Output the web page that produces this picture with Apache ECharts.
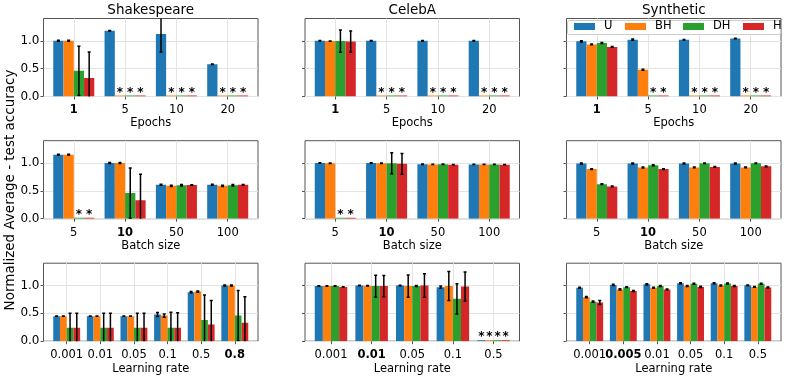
<!DOCTYPE html>
<html>
<head>
<meta charset="utf-8">
<script src="https://cdn.jsdelivr.net/npm/echarts@6/dist/echarts.min.js"></script>
<style>html,body{margin:0;padding:0;background:#fff}#c{width:789px;height:378px}</style>
</head>
<body>
<div id="c"></div>
<script>
// ---------- data ----------
const methods = ['U', 'BH', 'DH', 'H'];
const datasets = ['Shakespeare', 'CelebA', 'Synthetic'];
const rowNames = ['Epochs', 'Batch size', 'Learning rate'];
const yTicks = [0, 0.5, 1.0];

// Row 1: Epochs
const epochCats = ['1', '5', '10', '20'];
const epochBold = 0;
const shkEpochU = [1.0, 1.18, 1.12, 0.58];   const shkEpochUErr = [0.01, 0.005, 0.32, 0.005];
const shkEpochBH = [1.0, null, null, null];  const shkEpochBHErr = [0.01, 0, 0, 0];
const shkEpochDH = [0.46, null, null, null]; const shkEpochDHErr = [0.44, 0, 0, 0];
const shkEpochH = [0.33, null, null, null];  const shkEpochHErr = [0.47, 0, 0, 0];
const celEpochU = [1.0, 1.0, 1.0, 1.0];      const celEpochUErr = [0.005, 0.003, 0.003, 0.003];
const celEpochBH = [0.995, null, null, null]; const celEpochBHErr = [0.003, 0, 0, 0];
const celEpochDH = [0.995, null, null, null]; const celEpochDHErr = [0.2, 0, 0, 0];
const celEpochH = [0.985, null, null, null]; const celEpochHErr = [0.19, 0, 0, 0];
const synEpochU = [0.99, 1.02, 1.02, 1.04];  const synEpochUErr = [0.01, 0.01, 0.005, 0.005];
const synEpochBH = [0.935, 0.48, null, null]; const synEpochBHErr = [0.008, 0.01, 0, 0];
const synEpochDH = [0.96, null, null, null]; const synEpochDHErr = [0.008, 0, 0, 0];
const synEpochH = [0.89, null, null, null];  const synEpochHErr = [0.008, 0, 0, 0];

// Row 2: Batch size
const batchCats = ['5', '10', '50', '100'];
const batchBold = 1;
const shkBatchU = [1.15, 1.0, 0.61, 0.61];   const shkBatchUErr = [0.008, 0.008, 0.01, 0.01];
const shkBatchBH = [1.15, 1.0, 0.59, 0.59];  const shkBatchBHErr = [0.008, 0.008, 0.012, 0.012];
const shkBatchDH = [null, 0.46, 0.60, 0.60]; const shkBatchDHErr = [0, 0.45, 0.012, 0.012];
const shkBatchH = [null, 0.33, 0.605, 0.61]; const shkBatchHErr = [0, 0.47, 0.005, 0.005];
const celBatchU = [1.0, 1.0, 0.978, 0.975];  const celBatchUErr = [0.004, 0.005, 0.004, 0.004];
const celBatchBH = [0.995, 0.995, 0.975, 0.975]; const celBatchBHErr = [0.003, 0.004, 0.003, 0.003];
const celBatchDH = [null, 0.995, 0.978, 0.975]; const celBatchDHErr = [0, 0.19, 0.004, 0.004];
const celBatchH = [null, 0.985, 0.97, 0.97]; const celBatchHErr = [0, 0.185, 0.003, 0.003];
const synBatchU = [0.99, 0.99, 0.99, 0.99];  const synBatchUErr = [0.008, 0.008, 0.008, 0.008];
const synBatchBH = [0.89, 0.92, 0.92, 0.92]; const synBatchBHErr = [0.006, 0.008, 0.006, 0.006];
const synBatchDH = [0.62, 0.96, 0.995, 0.995]; const synBatchDHErr = [0.006, 0.008, 0.005, 0.005];
const synBatchH = [0.58, 0.89, 0.93, 0.94];  const synBatchHErr = [0.008, 0.008, 0.008, 0.008];

// Row 3: Learning rate
const shkLrCats = ['0.001', '0.01', '0.05', '0.1', '0.5', '0.8'];
const shkLrBold = 5;
const shkLrU = [0.45, 0.45, 0.45, 0.48, 0.88, 1.0];  const shkLrUErr = [0.003, 0.003, 0.003, 0.035, 0.01, 0.01];
const shkLrBH = [0.45, 0.45, 0.45, 0.46, 0.89, 1.0]; const shkLrBHErr = [0.003, 0.003, 0.003, 0.03, 0.012, 0.01];
const shkLrDH = [0.24, 0.24, 0.24, 0.24, 0.38, 0.46]; const shkLrDHErr = [0.26, 0.26, 0.26, 0.28, 0.45, 0.45];
const shkLrH = [0.24, 0.24, 0.24, 0.24, 0.30, 0.33]; const shkLrHErr = [0.26, 0.26, 0.26, 0.27, 0.43, 0.47];
const celLrCats = ['0.001', '0.01', '0.05', '0.1', '0.5'];
const celLrBold = 1;
const celLrU = [0.99, 1.0, 1.0, 0.97, null];   const celLrUErr = [0.005, 0.005, 0.005, 0.02, 0];
const celLrBH = [0.99, 0.995, 0.99, 0.99, null]; const celLrBHErr = [0.004, 0.004, 0.2, 0.26, 0];
const celLrDH = [0.99, 0.99, 0.99, 0.76, null]; const celLrDHErr = [0.004, 0.195, 0.01, 0.27, 0];
const celLrH = [0.975, 0.99, 1.0, 0.98, null]; const celLrHErr = [0.004, 0.19, 0.21, 0.26, 0];
const synLrCats = ['0.001', '0.005', '0.01', '0.05', '0.1', '0.5'];
const synLrBold = 1;
const synLrU = [0.96, 1.01, 1.02, 1.04, 1.04, 1.005];  const synLrUErr = [0.01, 0.01, 0.01, 0.008, 0.008, 0.005];
const synLrBH = [0.79, 0.93, 0.96, 0.99, 1.0, 0.975];  const synLrBHErr = [0.012, 0.01, 0.008, 0.008, 0.008, 0.008];
const synLrDH = [0.71, 0.97, 0.99, 1.03, 1.035, 1.03]; const synLrDHErr = [0.01, 0.008, 0.008, 0.008, 0.008, 0.008];
const synLrH = [0.695, 0.90, 0.93, 0.975, 0.99, 0.965]; const synLrHErr = [0.035, 0.01, 0.008, 0.01, 0.008, 0.01];

// ---------- panels (built from the arrays above) ----------
const panels = [
  [epochCats, epochBold, [shkEpochU, shkEpochBH, shkEpochDH, shkEpochH], [shkEpochUErr, shkEpochBHErr, shkEpochDHErr, shkEpochHErr]],
  [epochCats, epochBold, [celEpochU, celEpochBH, celEpochDH, celEpochH], [celEpochUErr, celEpochBHErr, celEpochDHErr, celEpochHErr]],
  [epochCats, epochBold, [synEpochU, synEpochBH, synEpochDH, synEpochH], [synEpochUErr, synEpochBHErr, synEpochDHErr, synEpochHErr]],
  [batchCats, batchBold, [shkBatchU, shkBatchBH, shkBatchDH, shkBatchH], [shkBatchUErr, shkBatchBHErr, shkBatchDHErr, shkBatchHErr]],
  [batchCats, batchBold, [celBatchU, celBatchBH, celBatchDH, celBatchH], [celBatchUErr, celBatchBHErr, celBatchDHErr, celBatchHErr]],
  [batchCats, batchBold, [synBatchU, synBatchBH, synBatchDH, synBatchH], [synBatchUErr, synBatchBHErr, synBatchDHErr, synBatchHErr]],
  [shkLrCats, shkLrBold, [shkLrU, shkLrBH, shkLrDH, shkLrH], [shkLrUErr, shkLrBHErr, shkLrDHErr, shkLrHErr]],
  [celLrCats, celLrBold, [celLrU, celLrBH, celLrDH, celLrH], [celLrUErr, celLrBHErr, celLrDHErr, celLrHErr]],
  [synLrCats, synLrBold, [synLrU, synLrBH, synLrDH, synLrH], [synLrUErr, synLrBHErr, synLrDHErr, synLrHErr]]
];

// ---------- style / layout ----------
const FONT = 'DejaVu Sans';
const colors = ['#1f77b4', '#ff7f0e', '#2ca02c', '#d62728'];
const colLeft = [43.5, 305, 566.5];
const rowTop = [18.5, 140.7, 263.2];
const plotW = 214.5, plotH = 78;
const nameGaps = [21, 21, 22];

function makeRender(k) {
  return function (params, api) {
    const i = api.value(0), v = api.value(1), e = api.value(2), miss = api.value(3) === 1;
    const cx = i + (k - 1.5) * 0.2;
    const color = api.visual('color');
    const a = api.coord([cx - 0.1, 0]);
    const b = api.coord([cx + 0.1, miss ? 0 : v]);
    const c = api.coord([cx, 0]);
    const t = api.coord([cx, v + e]), d = api.coord([cx, v - e]);
    const showErr = !miss && e > 0;
    const rect = miss
      ? { x: a[0], y: a[1] - 1, width: b[0] - a[0], height: 1 }
      : { x: a[0], y: b[1], width: b[0] - a[0], height: a[1] - b[1] };
    return {
      type: 'group',
      children: [
        { type: 'rect', shape: rect, style: { fill: color } },
        { type: 'polyline', ignore: !showErr,
          shape: { points: [[t[0] - 1.5, t[1]], [t[0] + 1.5, t[1]], [t[0], t[1]], [d[0], d[1]], [d[0] - 1.5, d[1]], [d[0] + 1.5, d[1]]] },
          style: { stroke: '#000', lineWidth: 1.5, fill: null } },
        { type: 'text', ignore: !miss, x: c[0], y: c[1] - 4, style: { text: '*', fill: '#000', font: 'bold 12px "DejaVu Sans"', align: 'center', verticalAlign: 'middle' } }
      ]
    };
  };
}

const grid = [], xAxis = [], yAxis = [], series = [], title = [];
panels.forEach((p, idx) => {
  const row = Math.floor(idx / 3), col = idx % 3;
  const cats = p[0], bold = p[1], n = cats.length;
  const margin = 0.4 + 0.05 * (n - 0.2);
  grid.push({ left: colLeft[col], top: rowTop[row], width: plotW, height: plotH, show: true, borderColor: '#555', borderWidth: 1, backgroundColor: 'transparent', containLabel: false });
  const ticks = cats.map((c, i) => i);
  // empty guard labels at both ends keep every category label visible
  const labelVals = [-margin].concat(ticks, [n - 1 + margin]);
  xAxis.push({
    type: 'value', gridIndex: idx, position: 'bottom', min: -margin, max: n - 1 + margin,
    name: rowNames[row], nameLocation: 'middle', nameGap: nameGaps[row],
    nameTextStyle: { fontFamily: FONT, fontSize: 11.5, color: '#000' },
    axisLine: { show: false, onZero: false },
    axisTick: { show: true, length: 3, customValues: ticks, lineStyle: { color: '#555' } },
    splitLine: { show: true, lineStyle: { color: '#e3e3e3', width: 1 } },
    axisLabel: {
      customValues: labelVals, margin: 8, hideOverlap: false,
      fontFamily: FONT, fontSize: 11.5, color: '#000',
      formatter: v => { const i = Math.round(v); if (Math.abs(v - i) > 1e-6 || i < 0 || i >= n) return ''; return i === bold ? '{b|' + cats[i] + '}' : cats[i]; },
      rich: { b: { fontWeight: 'bold', fontFamily: FONT, fontSize: 11.5, color: '#000' } }
    }
  });
  yAxis.push({
    type: 'value', gridIndex: idx, position: 'left', min: 0, max: 1.4,
    axisLine: { show: false, onZero: false },
    axisTick: { show: true, length: 3, customValues: yTicks, lineStyle: { color: '#555' } },
    splitLine: { show: true, lineStyle: { color: '#e3e3e3', width: 1 } },
    axisLabel: { show: col === 0, customValues: yTicks, margin: 4, fontFamily: FONT, fontSize: 12, color: '#000', formatter: v => v.toFixed(1) }
  });
  methods.forEach((m, k) => {
    const vals = p[2][k], errs = p[3][k];
    series.push({
      type: 'custom', name: m, xAxisIndex: idx, yAxisIndex: idx, clip: true,
      itemStyle: { color: colors[k] },
      encode: { x: 0, y: 1 },
      renderItem: makeRender(k),
      data: vals.map((v, i) => v === null ? [i, 0, 0, 1] : [i, v, errs[i], 0])
    });
  });
});
datasets.forEach((d, c) => {
  title.push({ text: d, left: colLeft[c] + plotW / 2, top: 3.5, textAlign: 'center', padding: 0,
    textStyle: { fontFamily: FONT, fontSize: 13.5, fontWeight: 'normal', color: '#000' } });
});

const legendX = [574, 625, 683, 743];
const legend = methods.map((m, k) => ({
  data: [m], left: legendX[k], top: 20.5, padding: 0, itemWidth: 21, itemHeight: 7, icon: 'rect', z: 20,
  textStyle: { fontFamily: FONT, fontSize: 11.5, color: '#000', padding: [0, 0, 0, 4] }
}));

const option = {
  animation: false,
  backgroundColor: '#fff',
  title: title,
  legend: legend,
  grid: grid, xAxis: xAxis, yAxis: yAxis, series: series,
  graphic: [
    { type: 'rect', z: 15, shape: { x: 567.5, y: 20.5, width: 213, height: 14, r: 2 }, style: { fill: 'rgba(255,255,255,0.85)', stroke: '#ccc', lineWidth: 1 } },
    { type: 'text', z: 15, x: 10, y: 190, rotation: Math.PI / 2, style: { text: 'Normalized Average - test accuracy', font: '13.5px "DejaVu Sans"', fill: '#000', align: 'center', verticalAlign: 'middle' } }
  ]
};
const chart = echarts.init(document.getElementById('c'), null, { renderer: 'canvas' });
chart.setOption(option);
</script>
</body>
</html>
